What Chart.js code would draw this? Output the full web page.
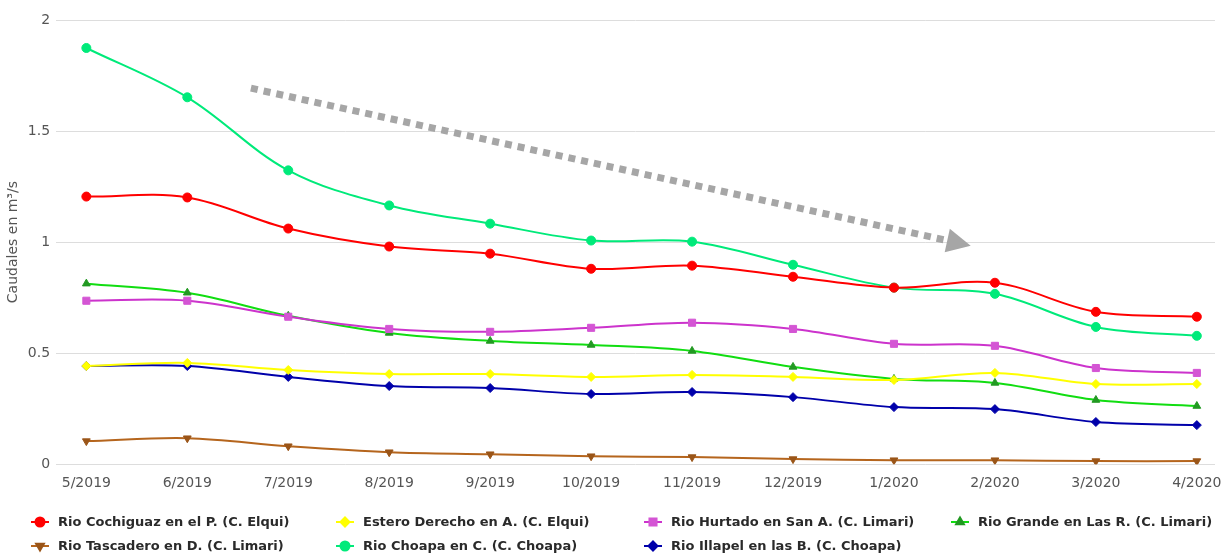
<!DOCTYPE html>
<html>
<head>
<meta charset="utf-8">
<script src="https://cdn.jsdelivr.net/npm/chart.js@4/dist/chart.umd.min.js"></script>
<style>
  html, body { margin: 0; padding: 0; background: #fff; overflow: hidden; }
  #wrap { width: 1221px; height: 554px; position: relative; }
  canvas { display: block; }
</style>
</head>
<body>
<div id="wrap"><canvas id="chart"></canvas></div>
<script>
// meses
const months = ['5/2019', '6/2019', '7/2019', '8/2019', '9/2019', '10/2019', '11/2019', '12/2019', '1/2020', '2/2020', '3/2020', '4/2020'];

// caudales medios (m3/s)
const cochiguaz = [1.205, 1.201, 1.061, 0.980, 0.948, 0.880, 0.894, 0.844, 0.795, 0.817, 0.686, 0.664];
const esteroDerecho = [0.442, 0.456, 0.424, 0.406, 0.406, 0.393, 0.402, 0.393, 0.379, 0.411, 0.361, 0.361];
const hurtado = [0.736, 0.736, 0.664, 0.609, 0.596, 0.614, 0.637, 0.609, 0.542, 0.533, 0.433, 0.411];
const grande = [0.813, 0.772, 0.668, 0.591, 0.555, 0.537, 0.510, 0.438, 0.384, 0.366, 0.289, 0.262];
const tascadero = [0.104, 0.117, 0.081, 0.054, 0.045, 0.036, 0.032, 0.023, 0.018, 0.018, 0.014, 0.014];
const choapa = [1.874, 1.652, 1.323, 1.165, 1.083, 1.007, 1.002, 0.898, 0.795, 0.767, 0.618, 0.578];
const illapel = [0.442, 0.442, 0.393, 0.352, 0.343, 0.316, 0.325, 0.302, 0.257, 0.248, 0.190, 0.176];

const yTicks = [0, 0.5, 1, 1.5, 2];

// flecha de tendencia (en coordenadas de datos: indice de mes, caudal)
const arrowFrom = [1.63, 1.693];
const arrowTo = [8.76, 0.984];

function serie(label, values, color, pointColor, style, rotation) {
    return {
        label: label,
        data: values.map((v, i) => ({ x: i, y: v })),
        borderColor: color,
        backgroundColor: pointColor,
        pointBackgroundColor: pointColor,
        pointBorderColor: pointColor,
        pointStyle: style,
        pointRotation: rotation || 0,
        pointRadius: style === 'rect' ? 5 : 4.5,
        pointBorderWidth: 1,
        borderWidth: 2,
        tension: 0.35,
        fill: false
    };
}

const datasets = [
    serie('Rio Cochiguaz en el P. (C. Elqui)', cochiguaz, '#ff0000', '#ff0000', 'circle'),
    serie('Estero Derecho en A. (C. Elqui)', esteroDerecho, '#ffff00', '#ffff00', 'rectRot'),
    serie('Rio Hurtado en San A. (C. Limari)', hurtado, '#cc33cc', '#d455d4', 'rect'),
    serie('Rio Grande en Las R. (C. Limari)', grande, '#11dd11', '#229922', 'triangle'),
    serie('Rio Tascadero en D. (C. Limari)', tascadero, '#b5651d', '#9a5518', 'triangle', 180),
    serie('Rio Choapa en C. (C. Choapa)', choapa, '#00ea7a', '#00ea7a', 'circle'),
    serie('Rio Illapel en las B. (C. Choapa)', illapel, '#0000aa', '#0000aa', 'rectRot')
];

// flecha gris punteada
const arrowPlugin = {
    id: 'arrow',
    afterDraw(chart) {
        const ctx = chart.ctx;
        const xs = chart.scales.x, ys = chart.scales.y;
        const x0 = xs.getPixelForValue(arrowFrom[0]), y0 = ys.getPixelForValue(arrowFrom[1]);
        const x1 = xs.getPixelForValue(arrowTo[0]), y1 = ys.getPixelForValue(arrowTo[1]);
        const len = Math.hypot(x1 - x0, y1 - y0);
        const dx = (x1 - x0) / len, dy = (y1 - y0) / len;
        ctx.save();
        ctx.strokeStyle = '#a6a6a6';
        ctx.fillStyle = '#a6a6a6';
        ctx.lineWidth = 7;
        ctx.setLineDash([7, 6]);
        ctx.beginPath();
        ctx.moveTo(x0, y0);
        ctx.lineTo(x1 - dx * 22, y1 - dy * 22);
        ctx.stroke();
        ctx.setLineDash([]);
        ctx.beginPath();
        ctx.moveTo(x1, y1);
        ctx.lineTo(x1 - dx * 24 - dy * 12, y1 - dy * 24 + dx * 12);
        ctx.lineTo(x1 - dx * 24 + dy * 12, y1 - dy * 24 - dx * 12);
        ctx.closePath();
        ctx.fill();
        ctx.restore();
    }
};

// leyenda en rejilla de 4 columnas
const legendPlugin = {
    id: 'gridLegend',
    afterDraw(chart) {
        const ctx = chart.ctx;
        const cols = [40, 345, 653, 960];
        const rows = [522, 546];
        ctx.save();
        ctx.font = 'bold 13px "DejaVu Sans"';
        ctx.textBaseline = 'middle';
        chart.data.datasets.forEach((ds, i) => {
            const x = cols[i % 4], y = rows[Math.floor(i / 4)];
            ctx.strokeStyle = ds.borderColor;
            ctx.lineWidth = 2;
            ctx.beginPath();
            ctx.moveTo(x - 9, y);
            ctx.lineTo(x + 9, y);
            ctx.stroke();
            const opts = {
                pointStyle: ds.pointStyle,
                rotation: ds.pointRotation,
                radius: ds.pointRadius,
                borderWidth: 1
            };
            ctx.fillStyle = ds.pointBackgroundColor;
            ctx.strokeStyle = ds.pointBorderColor;
            if (Chart.helpers && Chart.helpers.drawPoint) {
                Chart.helpers.drawPoint(ctx, opts, x, y);
            } else {
                ctx.beginPath();
                ctx.arc(x, y, 4.5, 0, Math.PI * 2);
                ctx.fill();
            }
            ctx.fillStyle = '#2a2a2a';
            ctx.fillText(ds.label, x + 18, y + 1);
        });
        ctx.restore();
    }
};

new Chart(document.getElementById('chart'), {
    type: 'line',
    data: { datasets: datasets },
    options: {
        responsive: true,
        maintainAspectRatio: false,
        animation: false,
        layout: { padding: { top: 20, right: 0, bottom: 59, left: 5 } },
        plugins: {
            legend: { display: false },
            tooltip: { enabled: false }
        },
        scales: {
            x: {
                type: 'linear',
                min: -0.3,
                max: 11.18,
                afterBuildTicks(scale) {
                    scale.ticks = months.map((m, i) => ({ value: i }));
                },
                afterFit(scale) {
                    scale.paddingRight = 0;
                    scale.paddingLeft = 0;
                },
                ticks: {
                    autoSkip: false,
                    maxRotation: 0,
                    color: '#555',
                    font: { family: 'DejaVu Sans', size: 14 },
                    padding: 3,
                    callback: (v) => months[v]
                },
                grid: { display: false },
                border: { display: false }
            },
            y: {
                min: 0,
                max: 2,
                afterBuildTicks(scale) {
                    scale.ticks = yTicks.map(v => ({ value: v }));
                },
                ticks: {
                    color: '#555',
                    font: { family: 'DejaVu Sans', size: 14 },
                    padding: 6,
                    callback: (v) => String(v)
                },
                grid: { color: '#dddddd', lineWidth: 1, drawTicks: false },
                border: { display: false },
                title: {
                    display: true,
                    text: 'Caudales en m³/s',
                    color: '#555',
                    font: { family: 'DejaVu Sans', size: 14 },
                    padding: { top: 0, bottom: 0 }
                }
            }
        }
    },
    plugins: [arrowPlugin, legendPlugin]
});
</script>
</body>
</html>
